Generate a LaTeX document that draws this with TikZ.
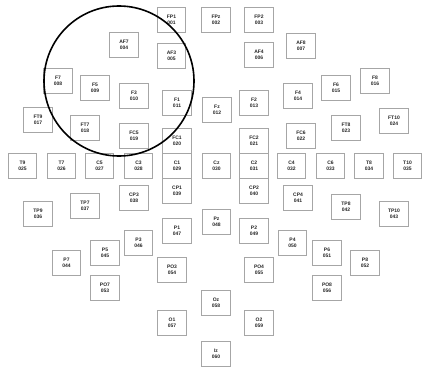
\documentclass[tikz,border=0pt]{standalone}
\usepackage{fontspec}
\setsansfont{Liberation Sans}
\begin{document}
\begin{tikzpicture}[x=1pt,y=-1pt,
  elec/.style={draw=gray!70, line width=1pt, minimum width=28.5pt, minimum height=25pt,
    inner sep=0pt, align=center, font=\sffamily\bfseries\fontsize{5}{6.5}\selectfont, text=black!85},
  roi/.style={circle, draw=black, line width=1.6pt, minimum size=150pt, inner sep=0pt}]
\useasboundingbox (0,0) rectangle (422,369);
\foreach \n/\x/\y/\k in {
  FP1/171.5/20/001, FPz/216/20/002, FP2/259/20/003,
  AF7/124/45/004, AF3/171.5/56/005, AF4/259/55/006, AF8/301/46/007,
  F7/58/81/008, F5/95/88/009, F3/134/96/010, F1/177/103/011, Fz/217/110/012,
  F2/254/103/013, F4/298/96/014, F6/336/88/015, F8/375/81/016,
  FT9/38/120/017, FT7/85/128/018, FC5/134/136/019, FC1/177/141/020,
  FC2/254/141/021, FC6/301/136/022, FT8/346/128/023, FT10/394/121/024,
  T9/22.5/166/025, T7/61.5/166/026, C5/99.5/166/027, C3/138.5/166/028, C1/177/166/029,
  Cz/216.5/166/030, C2/254/166/031, C4/291.5/166/032, C6/330.5/166/033,
  T8/369/166/034, T10/407.5/166/035,
  TP9/38/214/036, TP7/85/206/037, CP3/134/198/038, CP1/177/191/039,
  CP2/254/191/040, CP4/298/198/041, TP8/346/207/042, TP10/394/214/043,
  P7/66.5/263/044, P5/105/253/045, P3/138.5/243/046, P1/177/231/047, Pz/216.5/222/048,
  P2/254/231/049, P4/292.5/243/050, P6/327/253/051, P8/365/263/052,
  PO7/105/288/053, PO3/172/270/054, PO4/259/270/055, PO8/327/288/056,
  O1/172/323/057, Oz/216/303/058, O2/259/323/059, Iz/216/354/060}
  \node[elec] (\n) at (\x,\y) {\n\\\k};
\node[roi] (region) at (119,81) {};
\end{tikzpicture}
\end{document}
